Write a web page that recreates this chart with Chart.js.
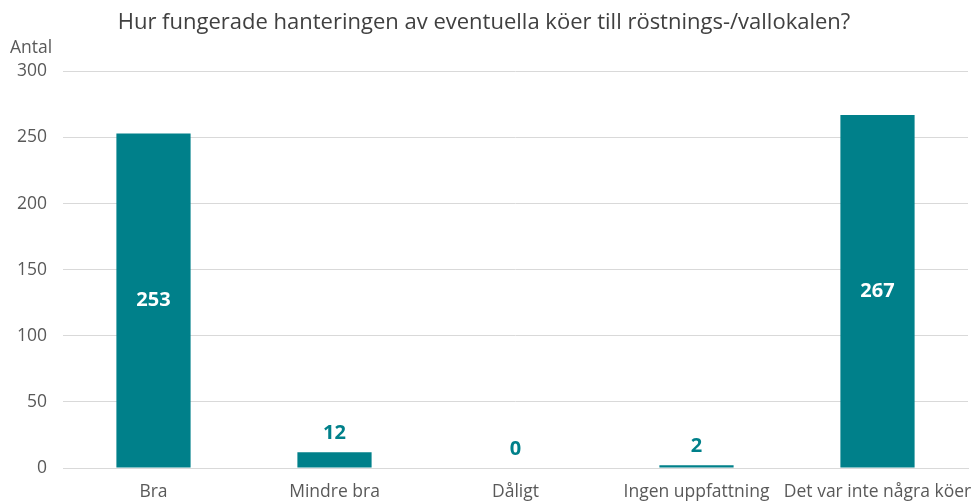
<!DOCTYPE html>
<html>
<head>
<meta charset="utf-8">
<script src="https://cdn.jsdelivr.net/npm/chart.js@4"></script>
<style>
  html, body { margin: 0; padding: 0; background: #fff; }
  #wrap { width: 972px; height: 502px; }
</style>
</head>
<body>
<div id="wrap"><canvas id="chart"></canvas></div>
<script>
const categories = ['Bra', 'Mindre bra', 'Dåligt', 'Ingen uppfattning', 'Det var inte några köer'];
const values = [253, 12, 0, 2, 267];
const yTicks = [0, 50, 100, 150, 200, 250, 300];

const teal = 'rgb(0, 128, 138)';

// value labels: inside the bar when tall, above it otherwise
const valueLabels = {
  id: 'valueLabels',
  afterDatasetsDraw(chart) {
    const ctx = chart.ctx;
    const meta = chart.getDatasetMeta(0);
    ctx.save();
    ctx.font = 'bold 20px "Open Sans"';
    ctx.textAlign = 'center';
    ctx.textBaseline = 'middle';
    meta.data.forEach((bar, i) => {
      const v = values[i];
      if (v > 50) {
        ctx.fillStyle = '#ffffff';
        ctx.fillText(v, bar.x, (bar.y + bar.base) / 2);
      } else {
        ctx.fillStyle = teal;
        ctx.fillText(v, bar.x, bar.y - 19);
      }
    });
    ctx.restore();
  }
};

// "Antal" over the y axis
const unitLabel = {
  id: 'unitLabel',
  afterDraw(chart) {
    const ctx = chart.ctx;
    ctx.save();
    ctx.font = '17.5px "Open Sans"';
    ctx.fillStyle = '#595959';
    ctx.textAlign = 'left';
    ctx.textBaseline = 'middle';
    ctx.fillText('Antal', 10, 48);
    ctx.restore();
  }
};

new Chart(document.getElementById('chart'), {
  type: 'bar',
  data: {
    labels: categories,
    datasets: [{
      data: values,
      backgroundColor: teal,
      barPercentage: 0.41,
      categoryPercentage: 1.0
    }]
  },
  options: {
    responsive: true,
    maintainAspectRatio: false,
    animation: false,
    layout: { padding: { top: 0, right: 4, bottom: 0, left: 0 } },
    plugins: {
      legend: { display: false },
      tooltip: { enabled: false },
      title: {
        display: true,
        text: 'Hur fungerade hanteringen av eventuella köer till röstnings-/vallokalen?',
        color: '#404040',
        font: { family: 'Open Sans', size: 22, weight: 'normal' },
        padding: { top: 10, bottom: 35 }
      }
    },
    scales: {
      x: {
        grid: { display: false },
        border: { color: '#d9d9d9', width: 1 },
        ticks: {
          color: '#595959',
          font: { family: 'Open Sans', size: 17.5 },
          padding: 6,
          maxRotation: 0,
          autoSkip: false
        },
        afterFit(scale) {
          scale.height = 34;
          scale.paddingLeft = 0;
          scale.paddingRight = 0;
        }
      },
      y: {
        min: 0,
        max: 300,
        afterBuildTicks(scale) { scale.ticks = yTicks.map(v => ({ value: v })); },
        grid: { color: '#d9d9d9', drawTicks: false },
        border: { display: false },
        ticks: {
          color: '#595959',
          font: { family: 'Open Sans', size: 17.5 },
          padding: 16
        },
        afterFit(scale) { scale.width = 63; }
      }
    }
  },
  plugins: [valueLabels, unitLabel]
});
</script>
</body>
</html>
